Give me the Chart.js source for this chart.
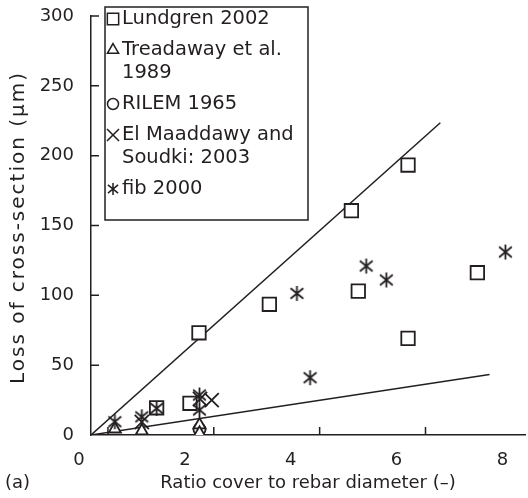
<!DOCTYPE html>
<html>
<head>
<meta charset="utf-8">
<script src="https://cdn.jsdelivr.net/npm/chart.js@4.4.0/dist/chart.umd.min.js"></script>
<style>
  html, body { margin: 0; padding: 0; background: #fff; }
  #contenedor { width: 528px; height: 498px; position: relative; }
</style>
</head>
<body>
<div id="contenedor"><canvas id="grafico"></canvas></div>
<script>
// Valores
const xTicks = [0, 2, 4, 6, 8];
const yTicks = [0, 50, 100, 150, 200, 250, 300];
const seriesNames = ['Lundgren 2002', 'Treadaway et al. 1989', 'RILEM 1965', 'El Maaddawy and Soudki: 2003', 'fib 2000'];
const tituloX = 'Ratio cover to rebar diameter (–)';
const tituloY = 'Loss of cross-section (µm)';

const lundgren = [[1.24, 19.5], [1.87, 22.7], [2.04, 73.2], [3.37, 93.6], [4.92, 160.6], [5.05, 103], [5.99, 193.3], [5.99, 69.2], [7.3, 116.2]];
const treadaway = [[0.45, 4.3], [0.96, 2.9], [2.05, 7.2], [2.05, 1.2]];
const rilem = [[2.05, 4]];
const elMaaddawy = [[0.96, 9.3], [2.06, 25.8], [2.28, 25]];
const fib = [[0.45, 9.5], [0.96, 13], [1.24, 19.1], [2.05, 28.6], [2.05, 17.9], [3.89, 101.4], [4.14, 41], [5.2, 121], [5.58, 111], [7.83, 131]];

// Rectas límite (inicio y fin)
const rectaSuperior = [[0, 0], [6.6, 223.6]];
const rectaInferior = [[0, 0], [7.53, 43.4]];

// En el original las marcas del eje x están corridas respecto a los números
const desfaseMarcasX = 0.32;

const tinta = '#231f20';
const fuente = "'DejaVu Sans', sans-serif";

// Convierte pares [x, y] al formato de Chart.js
function puntos(pares) {
    return pares.map(p => ({ x: p[0], y: p[1] }));
}

// Asterisco de seis brazos para la serie fib
function asterisco(tam, grosor) {
    const c = document.createElement('canvas');
    c.width = tam; c.height = tam;
    const g = c.getContext('2d');
    const m = tam / 2;
    const rv = m - 1, dx = rv * 0.85, dy = rv * 0.7;
    g.strokeStyle = tinta;
    g.lineWidth = grosor;
    g.beginPath();
    g.moveTo(m, m - rv); g.lineTo(m, m + rv);
    g.moveTo(m - dx, m - dy); g.lineTo(m + dx, m + dy);
    g.moveTo(m + dx, m - dy); g.lineTo(m - dx, m + dy);
    g.stroke();
    return c;
}
const asteriscoGrande = asterisco(17, 1.8);
const asteriscoChico = asterisco(14, 1.5);

function serie(nombre, datos, estilo, radio, orden) {
    return {
        label: nombre,
        data: puntos(datos),
        pointStyle: estilo,
        pointRadius: radio,
        pointHoverRadius: radio,
        pointBorderWidth: 1.8,
        pointBorderColor: tinta,
        pointBackgroundColor: '#ffffff',
        borderColor: tinta,
        order: orden
    };
}

function recta(datos) {
    return {
        label: '',
        data: puntos(datos),
        showLine: true,
        borderColor: tinta,
        borderWidth: 1.5,
        pointRadius: 0,
        pointHoverRadius: 0,
        order: 10
    };
}

// Estilos de símbolo para la leyenda
const simbolosLeyenda = [
    { pointStyle: 'rect', radius: 8 },
    { pointStyle: 'triangle', radius: 6.5 },
    { pointStyle: 'circle', radius: 5.5 },
    { pointStyle: 'crossRot', radius: 8.5 },
    { pointStyle: asteriscoChico, radius: 6 }
];

function partirTexto(ctx, texto, maxAncho) {
    const palabras = texto.split(' ');
    const lineas = [];
    let actual = '';
    palabras.forEach(p => {
        const prueba = actual ? actual + ' ' + p : p;
        if (ctx.measureText(prueba).width > maxAncho && actual) {
            lineas.push(actual);
            actual = p;
        } else {
            actual = prueba;
        }
    });
    lineas.push(actual);
    return lineas;
}

// Marcas hacia dentro, título vertical, leyenda enmarcada y la etiqueta (a)
const extras = {
    id: 'extras',
    afterDraw(chart) {
        const { ctx, chartArea, scales } = chart;
        ctx.save();
        ctx.strokeStyle = tinta;
        ctx.lineWidth = 1.5;
        ctx.beginPath();
        xTicks.forEach(v => {
            const valor = v + desfaseMarcasX;
            if (valor > scales.x.max) return;
            const px = scales.x.getPixelForValue(valor);
            ctx.moveTo(px, chartArea.bottom);
            ctx.lineTo(px, chartArea.bottom - 8);
        });
        yTicks.forEach(v => {
            if (v === 0) return;
            const py = scales.y.getPixelForValue(v);
            ctx.moveTo(chartArea.left, py);
            ctx.lineTo(chartArea.left + 8, py);
        });
        ctx.stroke();

        // título del eje y, algo espaciado como en el original
        ctx.save();
        ctx.translate(19, (chartArea.top + chartArea.bottom) / 2 + 2);
        ctx.rotate(-Math.PI / 2);
        ctx.font = '20px ' + fuente;
        ctx.letterSpacing = '2px';
        ctx.fillStyle = tinta;
        ctx.textAlign = 'center';
        ctx.textBaseline = 'middle';
        ctx.fillText(tituloY, 0, 0);
        ctx.restore();

        // leyenda
        const izq = chartArea.left + 14;
        const arriba = chartArea.top - 9;
        const ancho = 203;
        ctx.font = '19.5px ' + fuente;
        ctx.textBaseline = 'middle';
        ctx.textAlign = 'left';
        const filas = [];
        let y = arriba + 12;
        seriesNames.forEach((nombre, i) => {
            const lineas = partirTexto(ctx, nombre, ancho - 19);
            filas.push({ i: i, y: y, lineas: lineas });
            y += (lineas.length - 1) * 23 + 31;
        });
        const alto = (y - 31) + 31 - arriba;
        ctx.lineWidth = 1.5;
        ctx.strokeRect(izq, arriba, ancho, alto);

        filas.forEach(f => {
            ctx.fillStyle = '#ffffff';
            ctx.strokeStyle = tinta;
            ctx.lineWidth = 1.5;
            const s = simbolosLeyenda[f.i];
            Chart.helpers.drawPoint(ctx, { pointStyle: s.pointStyle, radius: s.radius, borderWidth: 1.5, rotation: 0 }, izq + 8, f.y);
            ctx.fillStyle = tinta;
            f.lineas.forEach((t, k) => ctx.fillText(t, izq + 17, f.y + k * 23));
        });

        ctx.fillStyle = tinta;
        ctx.font = '18px ' + fuente;
        ctx.fillText('(a)', 5, chart.height - 15);
        ctx.restore();
    }
};

new Chart(document.getElementById('grafico'), {
    type: 'scatter',
    data: {
        datasets: [
            recta(rectaSuperior),
            recta(rectaInferior),
            serie(seriesNames[0], lundgren, 'rect', 9.5, 5),
            serie(seriesNames[1], treadaway, 'triangle', 7, 4),
            serie(seriesNames[2], rilem, 'circle', 6, 6),
            serie(seriesNames[3], elMaaddawy, 'crossRot', 10, 2),
            serie(seriesNames[4], fib, asteriscoGrande, 8, 1)
        ]
    },
    options: {
        responsive: true,
        maintainAspectRatio: false,
        animation: false,
        events: [],
        layout: { autoPadding: false, padding: { top: 16, right: 3, bottom: 0, left: 0 } },
        plugins: {
            legend: { display: false },
            tooltip: { enabled: false }
        },
        scales: {
            x: {
                type: 'linear',
                min: 0,
                max: 8.2,
                afterBuildTicks: scale => { scale.ticks = xTicks.map(v => ({ value: v })); },
                afterFit: scale => {
                    scale.height = 63;
                    scale.paddingLeft = 0;
                    scale.paddingRight = 0;
                },
                grid: { display: false },
                border: { color: tinta, width: 1.5 },
                ticks: { color: tinta, font: { family: fuente, size: 18 }, padding: 7, labelOffset: -12, maxRotation: 0 },
                title: {
                    display: true,
                    text: tituloX,
                    color: tinta,
                    font: { family: fuente, size: 18 },
                    padding: { top: 0, bottom: 4 }
                }
            },
            y: {
                type: 'linear',
                min: 0,
                max: 300,
                afterBuildTicks: scale => { scale.ticks = yTicks.map(v => ({ value: v })); },
                afterFit: scale => {
                    scale.width = 91;
                    scale.paddingTop = 0;
                    scale.paddingBottom = 0;
                },
                grid: { display: false },
                border: { color: tinta, width: 1.5 },
                ticks: { color: tinta, font: { family: fuente, size: 18 }, padding: 9 },
                title: { display: false }
            }
        }
    },
    plugins: [extras]
});
</script>
</body>
</html>
